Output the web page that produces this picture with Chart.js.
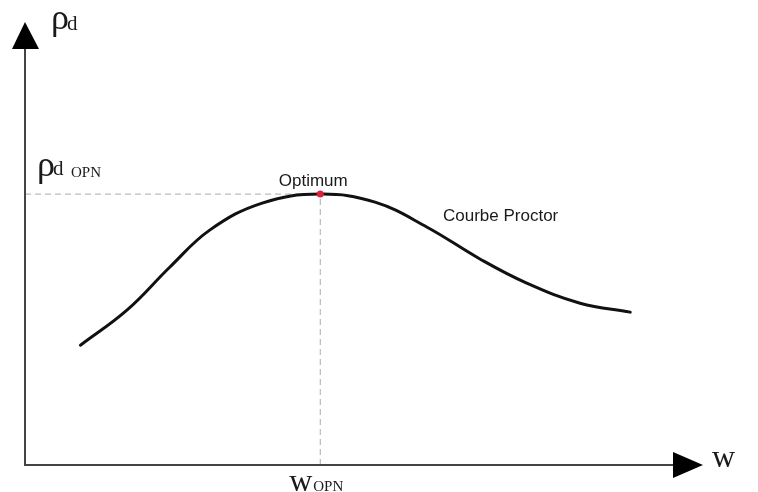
<!DOCTYPE html>
<html>
<head>
<meta charset="utf-8">
<script src="https://cdn.jsdelivr.net/npm/chart.js@4.4.0/dist/chart.umd.min.js"></script>
<style>
  html, body { margin: 0; padding: 0; background: #fff; }
  #chart { display: block; }
</style>
</head>
<body>
<canvas id="chart" width="758" height="492"></canvas>
<script>
// courbe Proctor : teneur en eau w (unites relatives) / densite seche rho_d
var wValues   = [8.3, 15.3, 21.7, 27.7, 35.5, 44.2, 52.4, 60.2, 68.1, 75.1, 83.1, 90.6];
var rhoValues = [26.8, 34.7, 44.3, 52.6, 58.6, 60.6, 58.8, 53.2, 46.1, 40.7, 36.2, 34.2];

var optW = 44.2;
var optRho = 60.6;

var axisLabels = { y: 'ρ', ySub: 'd', x: 'w', opt: 'OPN' };
var curveLabel = 'Courbe Proctor';
var optLabel = 'Optimum';

function pts(xs, ys) {
  return xs.map(function (x, i) { return { x: x, y: ys[i] }; });
}

// axes, fleches et textes
var decor = {
  id: 'decor',
  afterDraw: function (chart) {
    var c = chart.ctx;
    var a = chart.chartArea;
    var sx = chart.scales.x, sy = chart.scales.y;
    var x0 = a.left, y0 = a.bottom;

    c.save();
    c.strokeStyle = '#444';
    c.lineWidth = 2;
    c.beginPath();
    c.moveTo(x0, y0 + 1);
    c.lineTo(x0, a.top + 31);
    c.moveTo(x0, y0);
    c.lineTo(a.right - 20, y0);
    c.stroke();

    c.fillStyle = '#000';
    c.beginPath();
    c.moveTo(x0, a.top + 4);
    c.lineTo(x0 - 13, a.top + 31);
    c.lineTo(x0 + 14, a.top + 31);
    c.closePath();
    c.fill();
    c.beginPath();
    c.moveTo(a.right + 10, y0);
    c.lineTo(a.right - 20, y0 - 13);
    c.lineTo(a.right - 20, y0 + 13);
    c.closePath();
    c.fill();

    var px = sx.getPixelForValue(optW);
    var py = sy.getPixelForValue(optRho);

    c.fillStyle = '#1a1a1a';
    c.textBaseline = 'alphabetic';
    c.textAlign = 'left';
    c.font = '36px "Liberation Serif"';
    c.fillText(axisLabels.y, 51, 29);
    c.fillText(axisLabels.y, 37, py - 18);
    c.font = '32px "Liberation Serif"';
    c.fillText(axisLabels.x, a.right + 19, y0 + 2);
    c.fillText(axisLabels.x, px - 31, 491);
    c.font = '21px "Liberation Serif"';
    c.fillText(axisLabels.ySub, 67, 30);
    c.fillText(axisLabels.ySub, 53, py - 19);
    c.font = '15px "Liberation Serif"';
    c.fillText(axisLabels.opt, 71, py - 17);
    c.fillText(axisLabels.opt, px - 7, 491);

    c.font = '17px "Liberation Sans"';
    c.textAlign = 'center';
    c.fillText(optLabel, px - 7, py - 8);
    c.textAlign = 'left';
    c.fillText(curveLabel, 443, 221);
    c.restore();
  }
};

var ctx = document.getElementById('chart').getContext('2d');
var chart = new Chart(ctx, {
  type: 'scatter',
  data: {
    datasets: [
      {
        data: [{ x: optW, y: optRho }],
        pointRadius: 3.5,
        pointBackgroundColor: '#e0203a',
        pointBorderWidth: 0
      },
      {
        data: pts(wValues, rhoValues),
        showLine: true,
        borderColor: '#111',
        borderWidth: 3,
        tension: 0.4,
        pointRadius: 0,
        borderCapStyle: 'round'
      },
      {
        data: [{ x: 0, y: optRho }, { x: optW, y: optRho }],
        showLine: true,
        borderColor: '#aaa',
        borderWidth: 1,
        borderDash: [6, 4],
        pointRadius: 0
      },
      {
        data: [{ x: optW, y: 0 }, { x: optW, y: optRho }],
        showLine: true,
        borderColor: '#aaa',
        borderWidth: 1,
        borderDash: [6, 4],
        pointRadius: 0
      }
    ]
  },
  options: {
    responsive: false,
    animation: false,
    layout: { padding: { left: 25, right: 65, top: 18, bottom: 27 } },
    plugins: {
      legend: { display: false },
      tooltip: { enabled: false },
      title: { display: false }
    },
    scales: {
      x: { type: 'linear', min: 0, max: 100, display: false },
      y: { type: 'linear', min: 0, max: 100, display: false }
    }
  },
  plugins: [decor]
});
</script>
</body>
</html>
